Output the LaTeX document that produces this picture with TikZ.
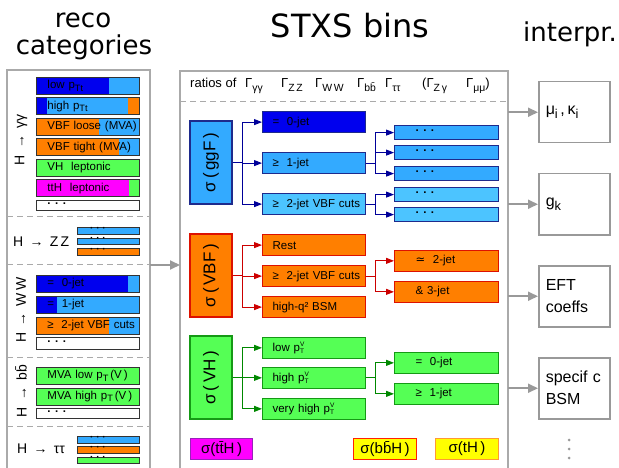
\documentclass[tikz,border=0pt]{standalone}
\usepackage{fontspec}
\setmainfont{Liberation Sans}
\newfontfamily\hdrfont{DejaVu Sans}
\usetikzlibrary{arrows.meta}

\definecolor{panelgray}{HTML}{AAAAAA}
\definecolor{arrowgray}{HTML}{999999}
\definecolor{deepblue}{HTML}{0000EE}
\definecolor{midblue}{HTML}{33AAFF}
\definecolor{paleblue}{HTML}{4CC4FF}
\definecolor{navyedge}{HTML}{1E2A8C}
\definecolor{vbforange}{HTML}{FF7F00}
\definecolor{vbfedge}{HTML}{DD1100}
\definecolor{vhgreen}{HTML}{55FF55}
\definecolor{vhedge}{HTML}{159915}
\definecolor{ttmag}{HTML}{FF00FF}
\definecolor{magedge}{HTML}{9922BB}
\definecolor{yel}{HTML}{FFFF00}
\definecolor{bbedge}{HTML}{FF2200}
\definecolor{thedge}{HTML}{FF9933}
\definecolor{linkblue}{HTML}{000099}
\definecolor{linkred}{HTML}{CC0000}
\definecolor{linkgreen}{HTML}{008800}

% lowered, slightly reduced index
\newcommand\dn[1]{\raisebox{-0.45ex}{\scalebox{0.8}{#1}}}
% p with V stacked over T
\newcommand\ptv{p\rlap{\raisebox{4.6pt}{\fontsize{6.5}{6.5}\selectfont V}}\raisebox{-2.6pt}{\fontsize{6.5}{6.5}\selectfont T}}
\newcommand\threedots{\textbf{· · ·}}

% one reco-category bar with a two-colour fill
\newcommand\recobar[6]{%
  \fill[#4] (36,#2) rectangle (#3,#2+17);
  \fill[#5] (#3,#2) rectangle (139,#2+17);
  \node[recobox] (#1) at (36,#2) {#6};}

\begin{document}
\begin{tikzpicture}[x=1pt,y=-1pt,
  panel/.style={draw=panelgray, line width=1.6pt},
  sepline/.style={draw=panelgray, line width=1pt, dash pattern=on 6pt off 4pt},
  hdr/.style={font=\hdrfont\fontsize{26}{30}\selectfont, inner sep=0pt, anchor=base},
  hdrbig/.style={font=\hdrfont\fontsize{32}{36}\selectfont, inner sep=0pt, anchor=base},
  grouplab/.style={font=\fontsize{14}{16}\selectfont, inner sep=0pt},
  recobox/.style={draw=black!80, line width=0.9pt, anchor=north west,
    minimum width=103pt, minimum height=17pt, inner sep=0pt, text width=103pt,
    align=left, font=\fontsize{11.5}{13}\selectfont,
    execute at begin node=\hspace*{11pt}},
  dotsbox/.style={recobox, fill=white, minimum height=#1},
  thinbar/.style={draw=black!80, line width=0.8pt, anchor=north west,
    minimum width=62pt, minimum height=6.5pt, inner sep=0pt,
    label={[anchor=west, xshift=13pt, yshift=-2pt, inner sep=0pt,
      font=\fontsize{10}{10}\selectfont]north west:\threedots}},
  root/.style={rotate=90, line width=1.2pt, minimum width=83pt,
    minimum height=42pt, inner sep=0pt, font=\fontsize{17}{20}\selectfont},
  lvtwo/.style={anchor=north west, line width=1.2pt, minimum width=103pt,
    minimum height=21pt, inner sep=0pt, text width=103pt, align=left,
    font=\fontsize{11.5}{14}\selectfont, execute at begin node=\hspace*{10pt}},
  lvthree/.style={lvtwo, minimum width=104pt, text width=104pt, execute at begin node=\hspace*{11pt}},
  flat/.style={minimum height=14pt},
  prod/.style={anchor=north west, line width=1.2pt, minimum width=63pt,
    minimum height=21pt, inner sep=0pt, font=\fontsize{15}{17}\selectfont},
  interp/.style={draw=arrowgray, line width=1.5pt, anchor=north west,
    minimum width=71pt, minimum height=61pt, inner xsep=7pt, inner ysep=0pt,
    text width=57pt, align=left, font=\fontsize{16}{22}\selectfont},
  grayarr/.style={draw=arrowgray, line width=2pt, -{Triangle[length=10pt,width=9pt]}},
  linkb/.style={draw=linkblue, line width=1pt, -{Triangle[length=8pt,width=6pt]}},
  linkr/.style={draw=linkred, line width=1pt, -{Triangle[length=8pt,width=6pt]}},
  linkg/.style={draw=linkgreen, line width=1pt, -{Triangle[length=8pt,width=6pt]}}]

\useasboundingbox (0,0) rectangle (619,468);

% column headers
\node[hdr] (hreco) at (83,28) {reco};
\node[hdr] (hcat) at (84,55) {categories};
\node[hdrbig] (hstxs) at (350,38) {STXS bins};
\node[hdr] (hint) at (570,42) {interpr.};

% panels, open at the bottom
\draw[panel] (7,468) -- (7,70) -- (150,70) -- (150,468);
\draw[panel] (180,468) -- (180,71) -- (508,71) -- (508,468);
\foreach \yy in {217,264,357,426} \draw[sepline] (7,\yy) -- (150,\yy);
\draw[sepline] (180,102) -- (508,102);

% ---------- reco categories ----------
\node[grouplab, rotate=90] (lgg) at (21,140) {H\, → \,γγ};
\recobar{g1}{77}{109}{deepblue}{midblue}{low p\dn{Tt}}
\fill[deepblue] (36,97.5) rectangle (47,114.5);
\fill[midblue] (47,97.5) rectangle (128,114.5);
\fill[vbforange] (128,97.5) rectangle (139,114.5);
\node[recobox] (g2) at (36,97.5) {high p\dn{Tt}};
\recobar{g3}{118}{99}{vbforange}{midblue}{VBF loose (MVA)}
\recobar{g4}{138.5}{119}{vbforange}{midblue}{VBF tight (MVA)}
\recobar{g5}{159}{139}{vhgreen}{vhgreen}{VH\ \ leptonic}
\recobar{g6}{179.5}{129}{ttmag}{vhgreen}{ttH\ \ leptonic}
\node[dotsbox=10pt] (g7) at (36,200) {\threedots};

\node[grouplab, anchor=west] (lzz) at (13,242) {H\, → \,Z\,Z};
\node[thinbar, fill=midblue] (z1) at (77,227) {};
\node[thinbar, fill=midblue] (z2) at (77,237.5) {};
\node[thinbar, fill=vbforange] (z3) at (77,248) {};

\node[grouplab, rotate=90] (lww) at (21,310) {H\, → \,W\,W};
\recobar{w1}{275}{128}{deepblue}{midblue}{=\ \ 0-jet}
\recobar{w2}{296}{57}{deepblue}{midblue}{=\ \ 1-jet}
\recobar{w3}{316.5}{109}{vbforange}{midblue}{≥\ \ 2-jet VBF cuts}
\node[dotsbox=12pt] (w4) at (36,337) {\threedots};

\node[grouplab, rotate=90] (lbb) at (21,391) {H\, → \,b\={b}};
\recobar{b1}{367}{139}{vhgreen}{vhgreen}{MVA low p\dn{T}\,(V\,)}
\recobar{b2}{387.5}{139}{vhgreen}{vhgreen}{MVA high p\dn{T}\,(V\,)}
\node[dotsbox=10pt] (b3) at (36,408) {\threedots};

\node[grouplab, anchor=west] (ltt) at (17,449) {H\, → \,ττ};
\node[thinbar, fill=midblue] (t1) at (77,436) {};
\node[thinbar, fill=vbforange] (t2) at (77,446) {};
\node[thinbar, fill=vhgreen] (t3) at (77,456.5) {};

% ---------- STXS bins ----------
\node[font=\fontsize{13}{15}\selectfont, inner sep=0pt, anchor=base west] (ratios) at (190,88)
  {\makebox[55pt][l]{ratios of}\makebox[36pt][l]{Γ\dn{γγ}}\makebox[34pt][l]{Γ\dn{Z\,Z}}%
   \makebox[42pt][l]{Γ\dn{W\,W}}\makebox[28pt][l]{Γ\dn{b\={b}}}\makebox[37pt][l]{Γ\dn{ττ}}%
   \makebox[44pt][l]{(Γ\dn{Z\,γ}}Γ\dn{μμ})};

% gluon fusion
\node[root, fill=midblue, draw=navyedge] (ggF) at (211,162.5) {σ\,(\,ggF\,)};
\node[lvtwo, fill=deepblue, draw=navyedge] (gj0) at (262,111) {=\ \ 0-jet};
\node[lvtwo, fill=midblue, draw=navyedge] (gj1) at (262,152) {≥\ \ 1-jet};
\node[lvtwo, fill=paleblue, draw=navyedge] (gj2) at (262,193) {≥\ \ 2-jet VBF cuts};
\node[lvthree, flat, fill=midblue, draw=navyedge] (ga) at (394,125) {\threedots};
\node[lvthree, flat, fill=midblue, draw=navyedge] (gb) at (394,145) {\threedots};
\node[lvthree, flat, fill=midblue, draw=navyedge] (gc) at (394,166) {\threedots};
\node[lvthree, flat, fill=paleblue, draw=navyedge] (gd) at (394,187) {\threedots};
\node[lvthree, flat, fill=paleblue, draw=navyedge] (ge) at (394,207) {\threedots};
\foreach \t in {gj0,gj1,gj2} \draw[linkb] (ggF.south) -- ++(10,0) |- (\t.west);
\foreach \t in {ga,gb,gc} \draw[linkb] (gj1.east) -- ++(9,0) |- (\t.west);
\foreach \t in {gd,ge} \draw[linkb] (gj2.east) -- ++(9,0) |- (\t.west);

% vector boson fusion
\node[root, fill=vbforange, draw=vbfedge] (vbf) at (211,275.5) {σ\,(\,VBF\,)};
\node[lvtwo, fill=vbforange, draw=vbfedge] (vrest) at (262,234) {Rest};
\node[lvtwo, fill=vbforange, draw=vbfedge] (vcut) at (262,265) {≥\ \ 2-jet VBF cuts};
\node[lvtwo, fill=vbforange, draw=vbfedge] (vbsm) at (262,296) {high-q² BSM};
\node[lvthree, minimum height=20.5pt, fill=vbforange, draw=vbfedge] (v2j) at (394,250) {{\hdrfont ≃}\ \ 2-jet};
\node[lvthree, minimum height=20.5pt, fill=vbforange, draw=vbfedge] (v3j) at (394,281) {\&\ 3-jet};
\foreach \t in {vrest,vcut,vbsm} \draw[linkr] (vbf.south) -- ++(10,0) |- (\t.west);
\foreach \t in {v2j,v3j} \draw[linkr] (vcut.east) -- ++(9,0) |- (\t.west);

% associated production
\node[root, fill=vhgreen, draw=vhedge] (vh) at (211,377.5) {σ\,(\,VH\,)};
\node[lvtwo, minimum height=20.5pt, fill=vhgreen, draw=vhedge] (hlow) at (262,337) {low \ptv};
\node[lvtwo, minimum height=20.5pt, fill=vhgreen, draw=vhedge] (hhigh) at (262,367) {high \ptv};
\node[lvtwo, minimum height=20.5pt, fill=vhgreen, draw=vhedge] (hvhigh) at (262,398) {very high \ptv};
\node[lvthree, minimum height=20.5pt, fill=vhgreen, draw=vhedge] (h0j) at (394,352) {=\ \ 0-jet};
\node[lvthree, minimum height=20.5pt, fill=vhgreen, draw=vhedge] (h1j) at (394,383) {≥\ \ 1-jet};
\foreach \t in {hlow,hhigh,hvhigh} \draw[linkg] (vh.south) -- ++(10,0) |- (\t.west);
\foreach \t in {h0j,h1j} \draw[linkg] (hhigh.east) -- ++(9,0) |- (\t.west);

% remaining production modes
\node[prod, minimum width=62pt, fill=ttmag, draw=magedge] (tth) at (190,438) {σ(t\={t}H\,)};
\node[prod, fill=yel, draw=bbedge] (bbh) at (353,438) {σ(b\={b}H\,)};
\node[prod, fill=yel, draw=thedge] (th) at (435,438) {σ(tH\,)};

% ---------- interpretation ----------
\node[interp] (mu) at (538,81) {μ\dn{i}\,,\,κ\dn{i}};
\node[interp] (gk) at (538,173) {g\dn{k}};
\node[interp] (eft) at (538,265) {EFT\\coeffs};
\node[interp] (bsm) at (538,357) {specif c\\BSM};
\foreach \yy in {440,449,458} \fill[arrowgray] (569,\yy) circle (1.5pt);

% flow between the columns
\coordinate (recoR) at (150,265);
\coordinate (stxsL) at (180,265);
\coordinate (stxsR) at (508,0);
\draw[grayarr] (recoR) -- (stxsL);
\foreach \t in {mu,gk,eft,bsm} \draw[grayarr] (stxsR |- \t.west) -- (\t.west);
\end{tikzpicture}
\end{document}
